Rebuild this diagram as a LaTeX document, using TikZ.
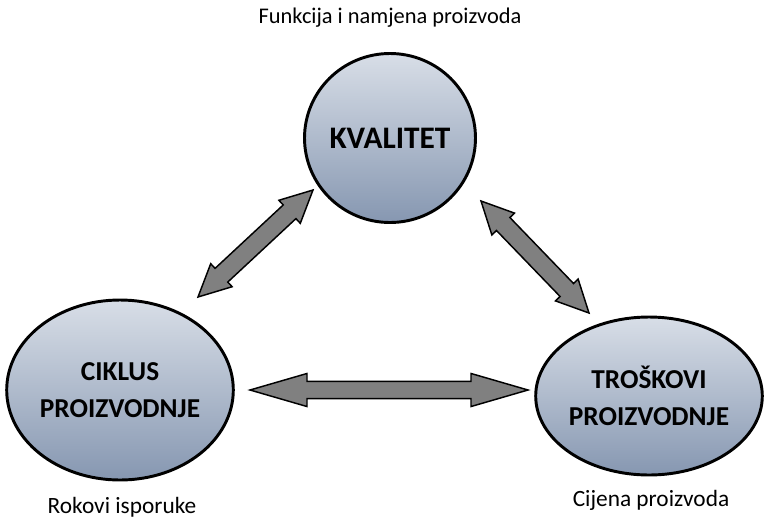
\documentclass[tikz,border=0pt]{standalone}
\usepackage{fontspec}
\setmainfont{Carlito}
\usetikzlibrary{shapes.geometric,calc,positioning}

\definecolor{ovaltop}{RGB}{216,222,231}
\definecolor{ovalbot}{RGB}{134,151,177}
\definecolor{arrgray}{RGB}{128,128,128}

\tikzset{
  oval/.style={ellipse, draw=black, line width=2.2pt, inner sep=0pt,
    top color=ovaltop, bottom color=ovalbot, align=center,
    font=\bfseries\fontsize{20.5}{28}\selectfont},
  note/.style={font=\fontsize{17.5}{20}\selectfont},
  fatarr/.style={draw=black, fill=arrgray, line width=1.1pt, line join=miter}
}

% fat double arrow: start, end, head length, half head width, half shaft width
\newcommand{\fatarrow}[5]{%
  \coordinate (fq1) at ($(#1)!#3!(#2)$);
  \coordinate (fq2) at ($(#2)!#3!(#1)$);
  \draw[fatarr] (#1) -- ($(fq1)!#4!90:(#2)$) -- ($(fq1)!#5!90:(#2)$)
    -- ($(fq2)!#5!-90:(#1)$) -- ($(fq2)!#4!-90:(#1)$) -- (#2)
    -- ($(fq2)!#4!90:(#1)$) -- ($(fq2)!#5!90:(#1)$)
    -- ($(fq1)!#5!-90:(#2)$) -- ($(fq1)!#4!-90:(#2)$) -- cycle;
}

\begin{document}
\begin{tikzpicture}[x=0.75pt, y=-0.75pt]
\useasboundingbox (0,0) rectangle (764,519);

% the three ovals
\node[oval, minimum width=126.75pt, minimum height=126.75pt,
  font=\bfseries\fontsize{23.5}{28}\selectfont] (kval) at (390,138) {KVALITET};
\node[oval, minimum width=166.5pt, minimum height=135pt] (cik) at (120,390)
  {CIKLUS\\PROIZVODNJE};
\node[oval, minimum width=168.75pt, minimum height=118.5pt] (tros) at (649,396)
  {TROŠKOVI\\PROIZVODNJE};

% notes
\node[note, font=\fontsize{16.8}{20}\selectfont] (funk) at (390,18)
  {Funkcija i namjena proizvoda};
\node[note] (rok) at (122,507) {Rokovi isporuke};
\node[note] (cij) at (651,500) {Cijena proizvoda};

% arrow ends
\coordinate (a1) at ([shift={(78,-93)}]cik.center);
\coordinate (a2) at ([shift={(-77,52)}]kval.center);
\coordinate (b1) at ([shift={(91,63)}]kval.center);
\coordinate (b2) at ([shift={(-60,-83)}]tros.center);
\coordinate (c1) at ([shift={(130,0)}]cik.center);
\coordinate (c2) at ([shift={(-121,-6)}]tros.center);

% arrows
\fatarrow{a1}{a2}{24pt}{11.8pt}{7pt}
\fatarrow{b1}{b2}{24pt}{11.8pt}{7pt}
\fatarrow{c1}{c2}{42.75pt}{12.4pt}{6.4pt}
\end{tikzpicture}
\end{document}
